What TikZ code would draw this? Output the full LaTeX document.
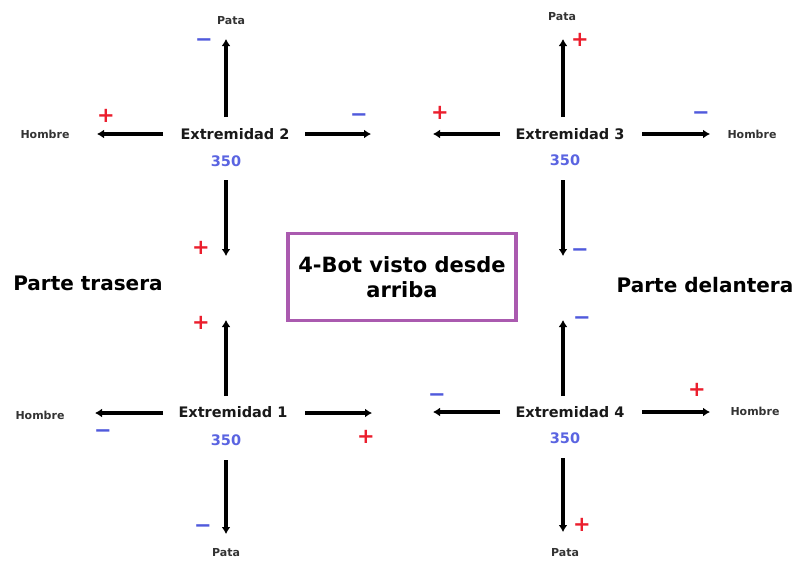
\documentclass[tikz,border=0pt]{standalone}
\usepackage{fontspec}
\setmainfont{DejaVu Sans}
\usetikzlibrary{arrows.meta}
\definecolor{plusred}{RGB}{235,30,45}
\definecolor{minusblue}{RGB}{80,90,220}
\definecolor{numblue}{RGB}{90,100,225}
\definecolor{boxpurple}{RGB}{170,90,175}
\tikzset{
  ext/.style={font=\bfseries\fontsize{14.5}{16}\selectfont, text=black!90, inner sep=0pt},
  small/.style={font=\bfseries\fontsize{11}{12}\selectfont, text=black!80, inner sep=0pt},
  num/.style={font=\bfseries\fontsize{14.5}{16}\selectfont, text=numblue, inner sep=0pt},
  side/.style={font=\bfseries\fontsize{20}{22}\selectfont, inner sep=0pt},
  pl/.style={font=\bfseries\fontsize{21}{21}\selectfont, text=plusred, inner sep=0pt},
  mi/.style={font=\bfseries\fontsize{21}{21}\selectfont, text=minusblue, inner sep=0pt},
  arr/.style={line width=3.2pt, -{Latex[length=7pt,width=9pt]}},
}
\begin{document}
\begin{tikzpicture}[x=1pt,y=-1pt]
\useasboundingbox (0,0) rectangle (797,562);
% central box
\node[draw=boxpurple, line width=3.2pt, minimum width=228pt, minimum height=87pt,
  align=center, font=\bfseries\fontsize{21}{25}\selectfont] (box) at (402,277) {4-Bot visto desde\\arriba};
\node[side] (tras) at (88,283) {Parte trasera};
\node[side] (del) at (705,285) {Parte delantera};

% ---------- Extremidad 2 ----------
\node[ext] (e2) at (235,134) {Extremidad 2};
\node[num] (n2) at (226,161) {350};
\node[small] (h2) at (45,134) {Hombre};
\node[small] (p2) at (231,21) {Pata};
\coordinate (e2l1) at (163,134); \coordinate (e2l2) at (97,134);
\coordinate (e2r1) at (305,134); \coordinate (e2r2) at (371,134);
\coordinate (e2u1) at (226,117); \coordinate (e2u2) at (226,39);
\coordinate (e2d1) at (226,180); \coordinate (e2d2) at (226,256);
\draw[arr] (e2l1) -- (e2l2);
\draw[arr] (e2r1) -- (e2r2);
\draw[arr] (e2u1) -- (e2u2);
\draw[arr] (e2d1) -- (e2d2);
\node[pl] (s2a) at (106,116) {+};
\node[mi] (s2b) at (359,118) {−};
\node[mi] (s2c) at (204,43) {−};
\node[pl] (s2d) at (201,248) {+};

% ---------- Extremidad 3 ----------
\node[ext] (e3) at (570,134) {Extremidad 3};
\node[num] (n3) at (565,160) {350};
\node[small] (h3) at (752,134) {Hombre};
\node[small] (p3) at (562,17) {Pata};
\coordinate (e3l1) at (500,134); \coordinate (e3l2) at (433,134);
\coordinate (e3r1) at (642,134); \coordinate (e3r2) at (710,134);
\coordinate (e3u1) at (563,117); \coordinate (e3u2) at (563,39);
\coordinate (e3d1) at (563,180); \coordinate (e3d2) at (563,256);
\draw[arr] (e3l1) -- (e3l2);
\draw[arr] (e3r1) -- (e3r2);
\draw[arr] (e3u1) -- (e3u2);
\draw[arr] (e3d1) -- (e3d2);
\node[pl] (s3a) at (440,113) {+};
\node[mi] (s3b) at (701,116) {−};
\node[pl] (s3c) at (580,40) {+};
\node[mi] (s3d) at (580,253) {−};

% ---------- Extremidad 1 ----------
\node[ext] (e1) at (233,412) {Extremidad 1};
\node[num] (n1) at (226,440) {350};
\node[small] (h1) at (40,415) {Hombre};
\node[small] (p1) at (226,553) {Pata};
\coordinate (e1l1) at (163,413); \coordinate (e1l2) at (95,413);
\coordinate (e1r1) at (305,413); \coordinate (e1r2) at (372,413);
\coordinate (e1u1) at (226,396); \coordinate (e1u2) at (226,320);
\coordinate (e1d1) at (226,460); \coordinate (e1d2) at (226,534);
\draw[arr] (e1l1) -- (e1l2);
\draw[arr] (e1r1) -- (e1r2);
\draw[arr] (e1u1) -- (e1u2);
\draw[arr] (e1d1) -- (e1d2);
\node[mi] (s1a) at (103,434) {−};
\node[pl] (s1b) at (366,437) {+};
\node[pl] (s1c) at (201,323) {+};
\node[mi] (s1d) at (203,529) {−};

% ---------- Extremidad 4 ----------
\node[ext] (e4) at (570,412) {Extremidad 4};
\node[num] (n4) at (565,438) {350};
\node[small] (h4) at (755,411) {Hombre};
\node[small] (p4) at (565,553) {Pata};
\coordinate (e4l1) at (500,412); \coordinate (e4l2) at (433,412);
\coordinate (e4r1) at (642,412); \coordinate (e4r2) at (710,412);
\coordinate (e4u1) at (563,396); \coordinate (e4u2) at (563,320);
\coordinate (e4d1) at (563,458); \coordinate (e4d2) at (563,532);
\draw[arr] (e4l1) -- (e4l2);
\draw[arr] (e4r1) -- (e4r2);
\draw[arr] (e4u1) -- (e4u2);
\draw[arr] (e4d1) -- (e4d2);
\node[mi] (s4a) at (437,398) {−};
\node[pl] (s4b) at (697,390) {+};
\node[mi] (s4c) at (582,321) {−};
\node[pl] (s4d) at (582,525) {+};
\end{tikzpicture}
\end{document}
